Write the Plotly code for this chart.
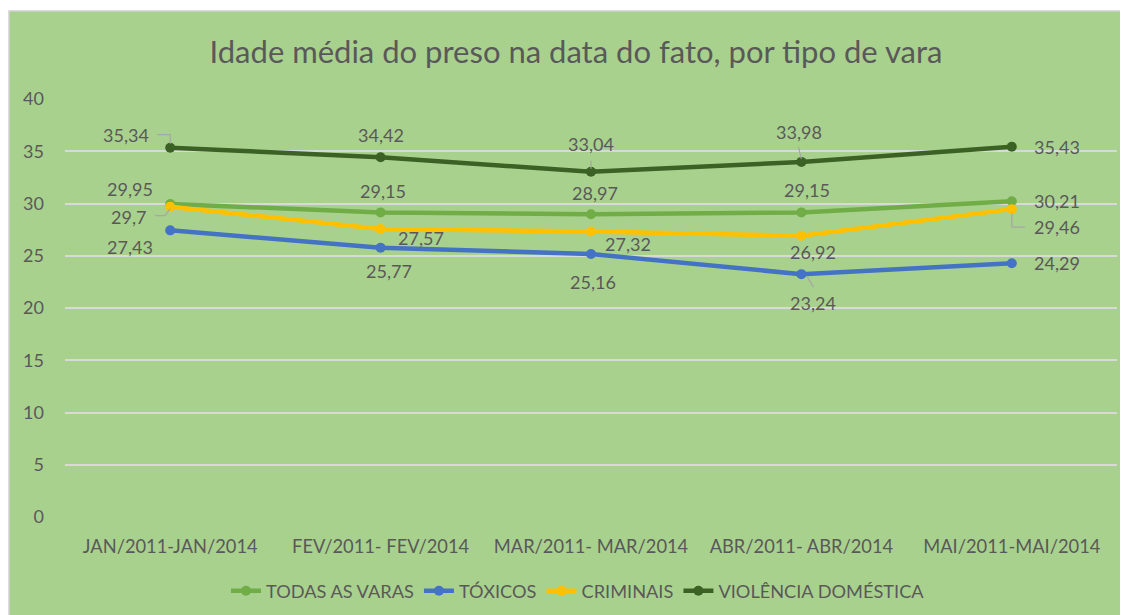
import plotly.graph_objects as go

categories = ["JAN/2011-JAN/2014", "FEV/2011- FEV/2014", "MAR/2011- MAR/2014",
              "ABR/2011- ABR/2014", "MAI/2011-MAI/2014"]
todas = [29.95, 29.15, 28.97, 29.15, 30.21]
toxicos = [27.43, 25.77, 25.16, 23.24, 24.29]
criminais = [29.7, 27.57, 27.32, 26.92, 29.46]
violencia = [35.34, 34.42, 33.04, 33.98, 35.43]
y_ticks = [0, 5, 10, 15, 20, 25, 30, 35, 40]

series = [
    ("TODAS AS VARAS", todas, "#70ad47"),
    ("TÓXICOS", toxicos, "#4472c4"),
    ("CRIMINAIS", criminais, "#ffc000"),
    ("VIOLÊNCIA DOMÉSTICA", violencia, "#3b6125"),
]

# label offsets in screen pixels (dx right, dy down) per series/point
offsets = {
    "TODAS AS VARAS": [(-40, -15), (2, -21), (4, -21), (6, -22), (45, 0)],
    "TÓXICOS": [(-40, 17), (8, 23), (2, 28), (12, 29), (45, 0)],
    "CRIMINAIS": [(-42, 10), (40, 9), (37, 12), (12, 16), (45, 18)],
    "VIOLÊNCIA DOMÉSTICA": [(-44, -13), (0, -22), (0, -28), (-2, -30), (45, 0)],
}
# leader lines: (series, point index, list of (dx, dy) pixel points)
leaders = [
    ("VIOLÊNCIA DOMÉSTICA", 0, [(-13, -13), (0, -13), (0, -4)]),
    ("VIOLÊNCIA DOMÉSTICA", 2, [(0, -11), (0, -3)]),
    ("VIOLÊNCIA DOMÉSTICA", 3, [(-3, -15), (0, -3)]),
    ("CRIMINAIS", 0, [(-15, 9), (-5, 9), (0, 2)]),
    ("CRIMINAIS", 4, [(0, 4), (0, 18), (13, 18)]),
    ("TÓXICOS", 3, [(6, 3), (12, 13)]),
]

FONT = "Lato"
TXT = "#595959"

fig = go.Figure()
for name, vals, color in series:
    fig.add_trace(go.Scatter(
        x=categories, y=vals, name=name, mode="lines+markers",
        line=dict(color=color, width=4.5),
        marker=dict(color=color, size=10),
    ))

annotations = []
for name, vals, color in series:
    for i, v in enumerate(vals):
        dx, dy = offsets[name][i]
        annotations.append(dict(
            x=categories[i], y=v, xref="x", yref="y",
            text=f"{v:g}".replace(".", ","), showarrow=False,
            xshift=dx, yshift=-dy,
            font=dict(family=FONT, size=18, color=TXT),
        ))

data_map = {name: vals for name, vals, _ in series}
shapes = []
# page body has an 8px margin: figure coords = reference coords - 8
W, H = 1120, 607
l, r, t, b = 57, 11, 91, 98
pw, ph = W - l - r, H - t - b
shapes.append(dict(
    type="rect", xref="paper", yref="paper", layer="below",
    x0=(1 - l) / pw, x1=(W - l + 5) / pw,
    y0=-(b + 5) / ph, y1=(H - b - 3) / ph,
    fillcolor="#a9d18e", line=dict(color="#d0d0d0", width=1.5),
))
for name, i, pts in leaders:
    path = "M " + " L ".join(f"{px},{-py}" for px, py in pts)
    shapes.append(dict(
        type="path", xref="x", yref="y",
        xsizemode="pixel", ysizemode="pixel",
        xanchor=i, yanchor=data_map[name][i],
        path=path, line=dict(color="#a6a6a6", width=1.2),
    ))

fig.update_layout(
    width=W, height=H,
    margin=dict(l=l, r=r, t=t, b=b),
    paper_bgcolor="white",
    plot_bgcolor="rgba(0,0,0,0)",
    title=dict(
        text="Idade média do preso na data do fato, por tipo de vara",
        x=568 / W, xref="container", xanchor="center",
        y=1 - 44 / H, yref="container", yanchor="middle",
        font=dict(family=FONT, size=31, color=TXT),
    ),
    xaxis=dict(
        type="category", range=[-0.5, 4.5], showgrid=False, zeroline=False,
        showline=False, ticks="", ticklabelstandoff=17,
        tickfont=dict(family=FONT, size=18.3, color=TXT),
    ),
    yaxis=dict(
        range=[0, 40], tickvals=y_ticks, showgrid=True, gridcolor="#d9d9d9",
        gridwidth=1.5, zeroline=False, showline=False, ticks="",
        ticklabelstandoff=20,
        tickfont=dict(family=FONT, size=18, color=TXT),
    ),
    legend=dict(
        orientation="h", xref="container", yref="container",
        x=570 / W, xanchor="center", y=1 - 583 / H, yanchor="middle",
        font=dict(family=FONT, size=18.2, color=TXT),
        bgcolor="rgba(0,0,0,0)",
    ),
    annotations=annotations,
    shapes=shapes,
)
fig.write_html("out.html")
